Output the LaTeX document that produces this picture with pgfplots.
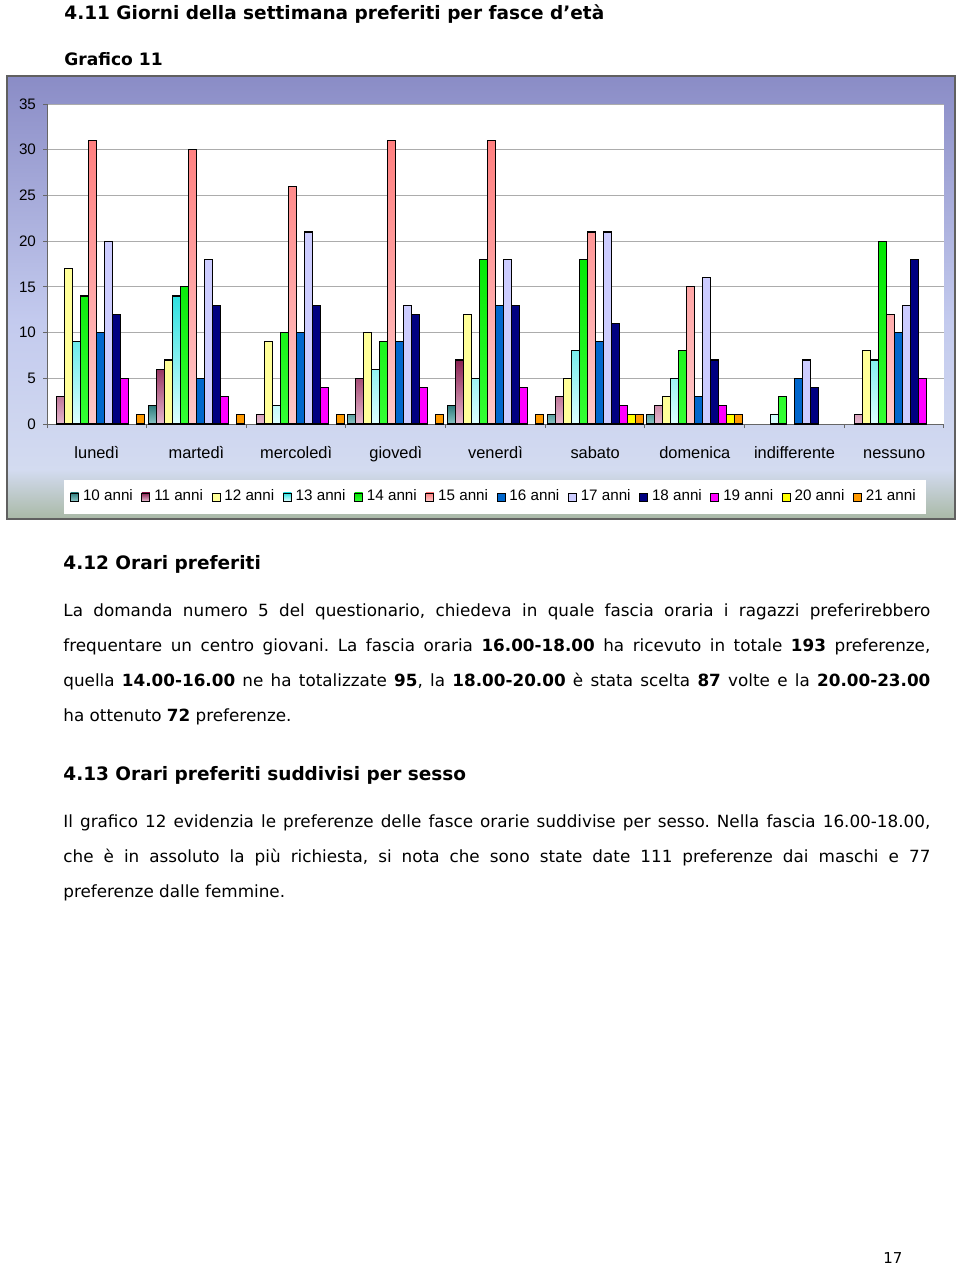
\documentclass[border=0pt]{standalone}
\usepackage{pgfplots}
\pgfplotsset{compat=1.18}
\usepackage{fontspec}
\setmainfont{DejaVu Sans}
\newfontfamily\chartfont{Liberation Sans}
\definecolor{bgtop}{HTML}{8A8CC6}
\definecolor{bgmid}{HTML}{C3CAEE}
\definecolor{bglow}{HTML}{D3DBF0}
\definecolor{bggreen}{HTML}{A9B9A6}
\definecolor{cA}{HTML}{2E7D7D}\definecolor{cAb}{HTML}{8CC6C6}
\definecolor{cB}{HTML}{8B2252}\definecolor{cBb}{HTML}{E6B8CF}
\definecolor{cC}{HTML}{FFFF99}
\definecolor{cD}{HTML}{2EE0E0}\definecolor{cDb}{HTML}{DDFFFF}
\definecolor{cE}{HTML}{00E600}\definecolor{cEb}{HTML}{33FF33}
\definecolor{cF}{HTML}{FF7F7F}\definecolor{cFb}{HTML}{FFC8C8}
\definecolor{cG}{HTML}{0066CC}
\definecolor{cH}{HTML}{CCCCFF}
\definecolor{cI}{HTML}{000080}
\definecolor{cJ}{HTML}{FF00FF}
\definecolor{cK}{HTML}{FFFF00}
\definecolor{cL}{HTML}{FF9900}
\frenchspacing
\begin{document}
\begin{tikzpicture}
\begin{scope}[x=0.5pt,y=-0.5pt]
\fill[white] (0,0) rectangle (960,1266);
\path[use as bounding box] (0,0) rectangle (960,1266);
% chart background
\shade[top color=bgtop,bottom color=bgmid] (7,76) rectangle (955,320);
\shade[top color=bgmid,bottom color=bglow] (7,319.5) rectangle (955,470);
\shade[top color=bglow,bottom color=bggreen] (7,469.5) rectangle (955,519);
\draw[gray!75!black, line width=0.6pt] (7,76) rectangle (955,519);
\end{scope}
\begin{axis}[
  at={(23.5pt,-212pt)}, anchor=south west,
  scale only axis, width=448.5pt, height=160pt,
  xmin=-0.5, xmax=8.5, ymin=0, ymax=35,
  ybar=0pt, bar width=4pt,
  axis background/.style={fill=white},
  axis x line*=bottom, axis y line*=left,
  axis line style={draw=gray!80!black, line width=0.5pt},
  xtick={-0.5,0.5,...,8.5}, x tick label as interval,
  xticklabels={lunedì,martedì,mercoledì,giovedì,venerdì,sabato,domenica,indifferente,nessuno},
  ytick={0,5,...,35},
  ymajorgrids, grid style={gray!65, line width=0.5pt},
  tick align=outside, major tick length=2pt,
  tick style={gray!80!black, line width=0.5pt},
  /pgf/number format/assume math mode=true,
  xticklabel style={font=\chartfont\fontsize{8.2}{9}\selectfont, anchor=base, yshift=-15pt},
  yticklabel style={font=\chartfont\fontsize{7.6}{9}\selectfont, xshift=0pt},
  legend style={at={(0.4994,-0.228)}, anchor=center, legend columns=12,
    draw=none, fill=white, font=\chartfont\fontsize{7.6}{9}\selectfont,
    inner xsep=3pt, inner ysep=3pt,
    /tikz/every even column/.append style={column sep=2.3pt}},
  legend cell align=left,
  legend image code/.code={\draw[#1, line width=0.4pt] (0pt,-2pt) rectangle (4pt,2pt);},
]
\addplot[draw=black, line width=0.6pt, top color=cA, bottom color=cAb] coordinates {(1,2) (3,1) (4,2) (5,1) (6,1)};
\addplot[draw=black, line width=0.6pt, top color=cB, bottom color=cBb] coordinates {(0,3) (1,6) (2,1) (3,5) (4,7) (5,3) (6,2) (8,1)};
\addplot[draw=black, line width=0.6pt, fill=cC] coordinates {(0,17) (1,7) (2,9) (3,10) (4,12) (5,5) (6,3) (8,8)};
\addplot[draw=black, line width=0.6pt, top color=cD, bottom color=cDb] coordinates {(0,9) (1,14) (2,2) (3,6) (4,5) (5,8) (6,5) (7,1) (8,7)};
\addplot[draw=black, line width=0.6pt, top color=cE, bottom color=cEb] coordinates {(0,14) (1,15) (2,10) (3,9) (4,18) (5,18) (6,8) (7,3) (8,20)};
\addplot[draw=black, line width=0.6pt, top color=cF, bottom color=cFb] coordinates {(0,31) (1,30) (2,26) (3,31) (4,31) (5,21) (6,15) (8,12)};
\addplot[draw=black, line width=0.6pt, fill=cG] coordinates {(0,10) (1,5) (2,10) (3,9) (4,13) (5,9) (6,3) (7,5) (8,10)};
\addplot[draw=black, line width=0.6pt, fill=cH] coordinates {(0,20) (1,18) (2,21) (3,13) (4,18) (5,21) (6,16) (7,7) (8,13)};
\addplot[draw=black, line width=0.6pt, fill=cI] coordinates {(0,12) (1,13) (2,13) (3,12) (4,13) (5,11) (6,7) (7,4) (8,18)};
\addplot[draw=black, line width=0.6pt, fill=cJ] coordinates {(0,5) (1,3) (2,4) (3,4) (4,4) (5,2) (6,2) (8,5)};
\addplot[draw=black, line width=0.6pt, fill=cK] coordinates {(5,1) (6,1)};
\addplot[draw=black, line width=0.6pt, fill=cL] coordinates {(0,1) (1,1) (2,1) (3,1) (4,1) (5,1) (6,1)};
\legend{10 anni,11 anni,12 anni,13 anni,14 anni,15 anni,16 anni,17 anni,18 anni,19 anni,20 anni,21 anni}
\end{axis}
\begin{scope}[x=0.5pt,y=-0.5pt]
\tikzset{hd/.style={anchor=base west, inner sep=0pt, font=\bfseries\fontsize{9.25}{11}\selectfont},
         bd/.style={anchor=base west, inner sep=0pt, font=\fontsize{8.4}{10}\selectfont}}
\node[hd] at (64,19) {4.11 Giorni della settimana preferiti per fasce d’età};
\node[hd, font=\bfseries\fontsize{8.55}{10}\selectfont] at (64,65) {Grafico 11};
\node[hd] at (63,569) {4.12 Orari preferiti};
\node[bd] at (63,616) {\makebox[433.5pt][s]{La domanda numero 5 del questionario, chiedeva in quale fascia oraria i ragazzi preferirebbero}};
\node[bd] at (63,651) {\makebox[433.5pt][s]{frequentare un centro giovani. La fascia oraria \textbf{16.00-18.00} ha ricevuto in totale \textbf{193} preferenze,}};
\node[bd] at (63,686) {\makebox[433.5pt][s]{quella \textbf{14.00-16.00} ne ha totalizzate \textbf{95}, la \textbf{18.00-20.00} è stata scelta \textbf{87} volte e la \textbf{20.00-23.00}}};
\node[bd] at (63,721) {ha ottenuto \textbf{72} preferenze.};
\node[hd] at (63,780) {4.13 Orari preferiti suddivisi per sesso};
\node[bd] at (63,827) {\makebox[433.5pt][s]{Il grafico 12 evidenzia le preferenze delle fasce orarie suddivise per sesso. Nella fascia 16.00-18.00,}};
\node[bd] at (63,862) {\makebox[433.5pt][s]{che è in assoluto la più richiesta, si nota che sono state date 111 preferenze dai maschi e 77}};
\node[bd] at (63,897) {preferenze dalle femmine.};
\node[bd, font=\fontsize{7.5}{9}\selectfont] at (883,1263) {17};
\end{scope}
\end{tikzpicture}
\end{document}
